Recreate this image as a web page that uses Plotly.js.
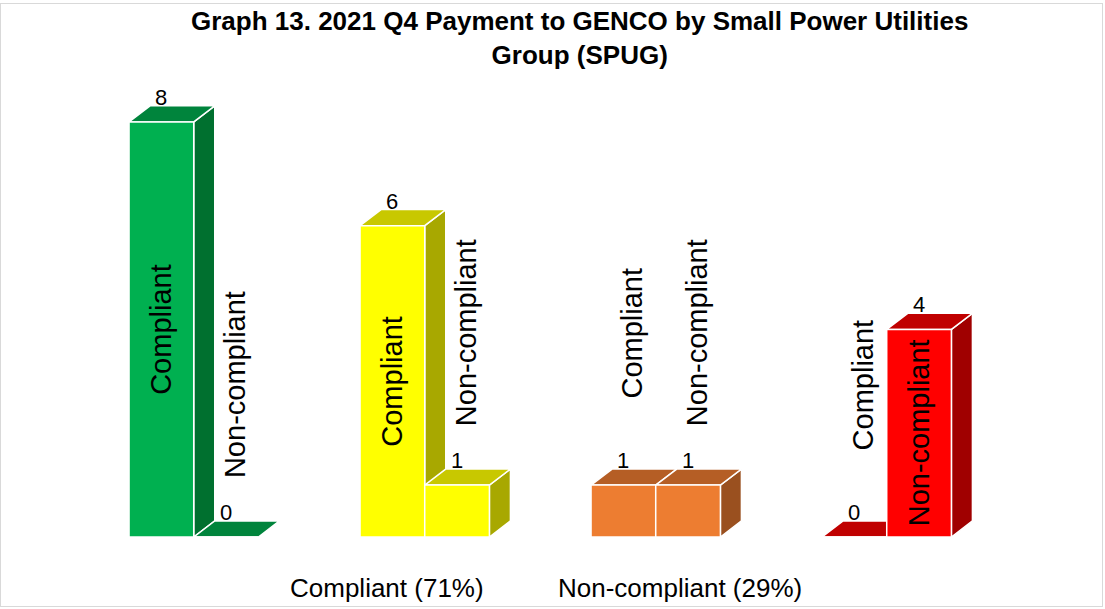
<!DOCTYPE html>
<html>
<head>
<meta charset="utf-8">
<script src="https://cdn.plot.ly/plotly-3.0.1.min.js"></script>
<style>
  html, body { margin: 0; padding: 0; background: #ffffff; }
  #frame { position: absolute; left: 0; top: 3px; width: 1101px; height: 602px; border: 1px solid #d9d9d9; }
  #chart { width: 1101px; height: 602px; }
</style>
</head>
<body>
<div id="frame"><div id="chart"></div></div>
<script>
// ---- data ----
const groups = ["Group 1", "Group 2", "Group 3", "Group 4"];
const seriesNames = ["Compliant", "Non-compliant"];
const compliant = [8, 6, 1, 0];
const nonCompliant = [0, 1, 1, 4];
const legendLabels = ["Compliant (71%)", "Non-compliant (29%)"];
const titleText = "Graph 13. 2021 Q4 Payment to GENCO by Small Power Utilities<br>Group (SPUG)";

// ---- styles ----
const frontColors = ["#00B050", "#FFFF00", "#ED7D31", "#FF0000"];
const topColors   = ["#00843C", "#C8C800", "#B55E25", "#C00000"];
const sideColors  = ["#00702F", "#A8A800", "#9A501F", "#A00000"];
const FONT = "Liberation Sans, Arial, sans-serif";
const BAR_W = 0.28;      // bar width in x units
const DEPTH_X = 0.091;   // 3D depth offset (x units)
const DEPTH_Y = 0.31;    // 3D depth offset (y units)

const seriesValues = [compliant, nonCompliant];
const xPos = (i, j) => i + (j - 0.5) * BAR_W - 0.012;

const traces = seriesValues.map((vals, j) => ({
  type: "bar",
  name: seriesNames[j],
  x: groups.map((g, i) => xPos(i, j)),
  y: vals,
  width: BAR_W,
  marker: { color: frontColors, line: { color: "#ffffff", width: 1.5 } },
  hovertemplate: "%{y}<extra>" + seriesNames[j] + "</extra>",
  showlegend: false
}));

const shapes = [];
const annotations = [];
groups.forEach((g, i) => {
  seriesValues.forEach((vals, j) => {
    const v = vals[i];
    const xc = xPos(i, j);
    const xl = xc - BAR_W / 2, xr = xc + BAR_W / 2;
    // side face
    shapes.push({
      type: "path", xref: "x", yref: "y", layer: "below",
      path: `M ${xr},0 L ${xr + DEPTH_X},${DEPTH_Y} L ${xr + DEPTH_X},${v + DEPTH_Y} L ${xr},${v} Z`,
      fillcolor: sideColors[i], line: { color: "#ffffff", width: 1.5 }
    });
    // top face
    shapes.push({
      type: "path", xref: "x", yref: "y", layer: "below",
      path: `M ${xl},${v} L ${xl + DEPTH_X},${v + DEPTH_Y} L ${xr + DEPTH_X},${v + DEPTH_Y} L ${xr},${v} Z`,
      fillcolor: topColors[i], line: { color: "#ffffff", width: 1.5 }
    });
    // value label
    annotations.push({
      x: xc, y: v, xref: "x", yref: "y", text: String(v), showarrow: false,
      xanchor: "center", yanchor: "bottom", yshift: 10,
      font: { family: FONT, size: 22, color: "#000000" }
    });
    // series name label
    const inside = v >= 4;
    annotations.push({
      x: xc, y: inside ? v / 2 : v, xref: "x", yref: "y", text: seriesNames[j],
      showarrow: false, textangle: -90, xanchor: "center", yanchor: "middle",
      xshift: inside ? 0 : 9, yshift: inside ? 0 : 152,
      font: { family: FONT, size: 29, color: "#000000" }
    });
  });
});

const legendX = [0.331, 0.648];
legendLabels.forEach((t, k) => {
  annotations.push({
    x: legendX[k], y: 0, xref: "paper", yref: "paper", text: t, showarrow: false,
    xanchor: "center", yanchor: "middle", yshift: -51,
    font: { family: FONT, size: 26, color: "#000000" }
  });
});

// title as an annotation for exact placement
annotations.push({
  x: 0.54, y: 1, xref: "paper", yref: "paper", text: titleText, showarrow: false,
  xanchor: "center", yanchor: "bottom", yshift: -2,
  font: { family: FONT, size: 26, color: "#000000", weight: "bold" }
});

const layout = {
  width: 1101, height: 602,
  margin: { l: 80, r: 97, t: 66, b: 69 },
  paper_bgcolor: "#ffffff", plot_bgcolor: "rgba(0,0,0,0)",
  xaxis: { range: [-0.5, 3.5], visible: false, fixedrange: true },
  yaxis: { range: [0, 9], visible: false, fixedrange: true },
  barmode: "overlay",
  shapes: shapes,
  annotations: annotations,
  showlegend: false
};

Plotly.newPlot("chart", traces, layout, { displayModeBar: false });
</script>
</body>
</html>
